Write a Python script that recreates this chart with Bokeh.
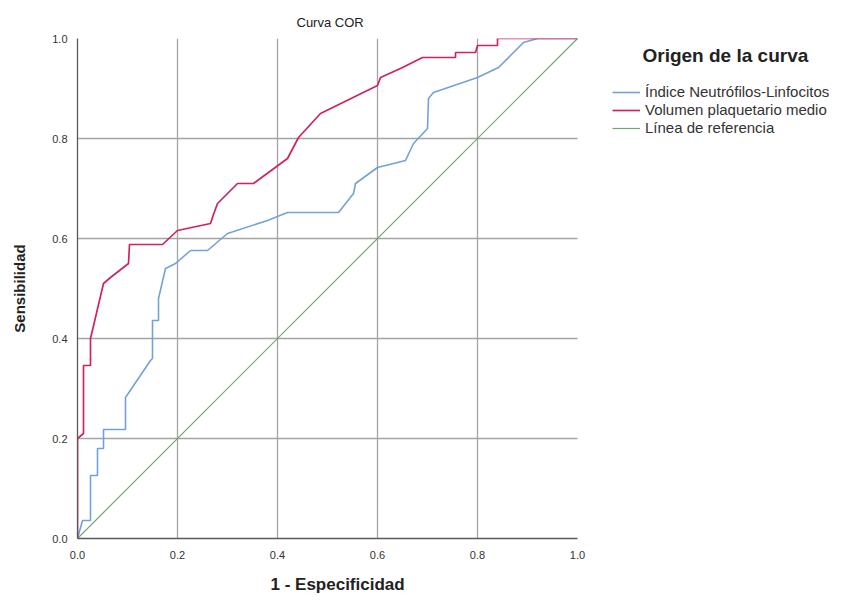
from bokeh.plotting import figure
from bokeh.models import Legend, LegendItem, Label, FixedTicker, Range1d, Title
from bokeh.embed import file_html
from bokeh.resources import INLINE

# ---- data ----
vpm_fpr = [0, 0, 0.012, 0.012, 0.026, 0.026, 0.052, 0.066, 0.102, 0.104, 0.17, 0.2,
           0.266, 0.272, 0.28, 0.32, 0.352, 0.42, 0.442, 0.486, 0.6, 0.606, 0.646,
           0.686, 0.69, 0.756, 0.756, 0.796, 0.8, 0.84, 0.84, 1.0]
vpm_tpr = [0, 0.2, 0.21, 0.346, 0.346, 0.40, 0.51, 0.522, 0.55, 0.588, 0.588, 0.616,
           0.63, 0.648, 0.67, 0.71, 0.71, 0.76, 0.802, 0.85, 0.906, 0.922, 0.94,
           0.96, 0.962, 0.962, 0.972, 0.972, 0.986, 0.986, 1.0, 1.0]

inl_fpr = [0, 0.01, 0.026, 0.026, 0.04, 0.04, 0.052, 0.052, 0.096, 0.096, 0.146, 0.15,
           0.15, 0.162, 0.162, 0.176, 0.196, 0.226, 0.26, 0.30, 0.38, 0.42, 0.522,
           0.552, 0.556, 0.60, 0.656, 0.672, 0.70, 0.702, 0.712, 0.80, 0.842, 0.866,
           0.892, 0.92, 1.0]
inl_tpr = [0, 0.036, 0.036, 0.126, 0.126, 0.18, 0.18, 0.218, 0.218, 0.282, 0.356, 0.36,
           0.436, 0.436, 0.48, 0.54, 0.55, 0.576, 0.576, 0.61, 0.636, 0.652, 0.652,
           0.69, 0.71, 0.742, 0.756, 0.79, 0.82, 0.88, 0.892, 0.922, 0.942, 0.966,
           0.992, 1.0, 1.0]

ref_x = [0.0, 1.0]
ref_y = [0.0, 1.0]

ticks = [0.0, 0.2, 0.4, 0.6, 0.8, 1.0]
tick_labels = {0.0: "0.0", 0.2: "0.2", 0.4: "0.4", 0.6: "0.6", 0.8: "0.8", 1.0: "1.0"}
grid_ticks = [0.2, 0.4, 0.6, 0.8]

series_names = ["Índice Neutrófilos-Linfocitos", "Volumen plaquetario medio", "Línea de referencia"]
legend_title = "Origen de la curva"
x_label = "1 - Especificidad"
y_label = "Sensibilidad"
colors = ["#72a2d9", "#cf2556", "#72a672"]

FONT = "Liberation Sans"

p = figure(width=845, height=608, output_backend="svg", toolbar_location=None,
           x_range=Range1d(0, 1.52), y_range=Range1d(0, 1),
           min_border_left=77, min_border_right=8, min_border_top=38, min_border_bottom=70,
           title="Curva COR")
p.outline_line_color = None
p.background_fill_color = "white"

p.title.align = "left"
p.title.offset = 219
p.title.vertical_align = "top"
p.title.standoff = 13
p.title.text_font = FONT
p.title.text_font_size = "13px"
p.title.text_font_style = "normal"
p.title.text_color = "#222222"

for ax in (p.xaxis[0], p.yaxis[0]):
    ax.ticker = FixedTicker(ticks=ticks)
    ax.major_label_overrides = tick_labels
    ax.major_tick_line_color = None
    ax.minor_tick_line_color = None
    ax.axis_line_color = "#5a5a5a"
    ax.axis_line_width = 1.3
    ax.major_label_text_font = FONT
    ax.major_label_text_font_size = "11px"
    ax.major_label_text_color = "#333333"
    ax.axis_label_text_font = FONT
    ax.axis_label_text_font_style = "bold"
    ax.axis_label_text_color = "#222222"
    ax.bounds = (0, 1)

p.yaxis.axis_label = y_label
p.yaxis.axis_label_text_font_size = "15px"
p.xaxis.major_label_standoff = 6
p.yaxis.major_label_standoff = 4
p.yaxis.axis_label_standoff = 21

# x-axis title, positioned under the 0..1 square
xt = Title(text=x_label, align="left", offset=193, standoff=26, vertical_align="top",
           text_font=FONT, text_font_size="17px", text_font_style="bold", text_color="#222222")
p.add_layout(xt, "below")

p.xgrid.ticker = FixedTicker(ticks=grid_ticks)
p.xgrid.grid_line_color = "#a4a4a4"
p.xgrid.grid_line_width = 1.3
p.ygrid.visible = False
# horizontal grid lines limited to the 0..1 plot square
p.segment(x0=[0.0] * len(grid_ticks), x1=[1.0] * len(grid_ticks), y0=grid_ticks, y1=grid_ticks,
          line_color="#a4a4a4", line_width=1.3, level="underlay")

r_ref = p.line(ref_x, ref_y, line_color=colors[2], line_width=1.2)
r_inl = p.line(inl_fpr, inl_tpr, line_color=colors[0], line_width=1.6)
r_vpm = p.line(vpm_fpr, vpm_tpr, line_color=colors[1], line_width=1.7)

legend = Legend(items=[LegendItem(label=series_names[0], renderers=[r_inl]),
                       LegendItem(label=series_names[1], renderers=[r_vpm]),
                       LegendItem(label=series_names[2], renderers=[r_ref])],
                location=(535, 402))
legend.background_fill_alpha = 0
legend.border_line_alpha = 0
legend.padding = 0
legend.margin = 0
legend.spacing = 1
legend.glyph_width = 28
legend.glyph_height = 16
legend.label_height = 16
legend.label_standoff = 5
legend.label_text_font = FONT
legend.label_text_font_size = "15px"
legend.label_text_color = "#333333"
p.add_layout(legend, "center")

title_lbl = Label(x=1.13, y=0.966, text=legend_title, text_font=FONT,
                  text_font_size="19px", text_font_style="bold", text_color="#222222",
                  text_baseline="middle", text_align="left")
p.add_layout(title_lbl)

open("out.html", "w").write(file_html(p, INLINE))
